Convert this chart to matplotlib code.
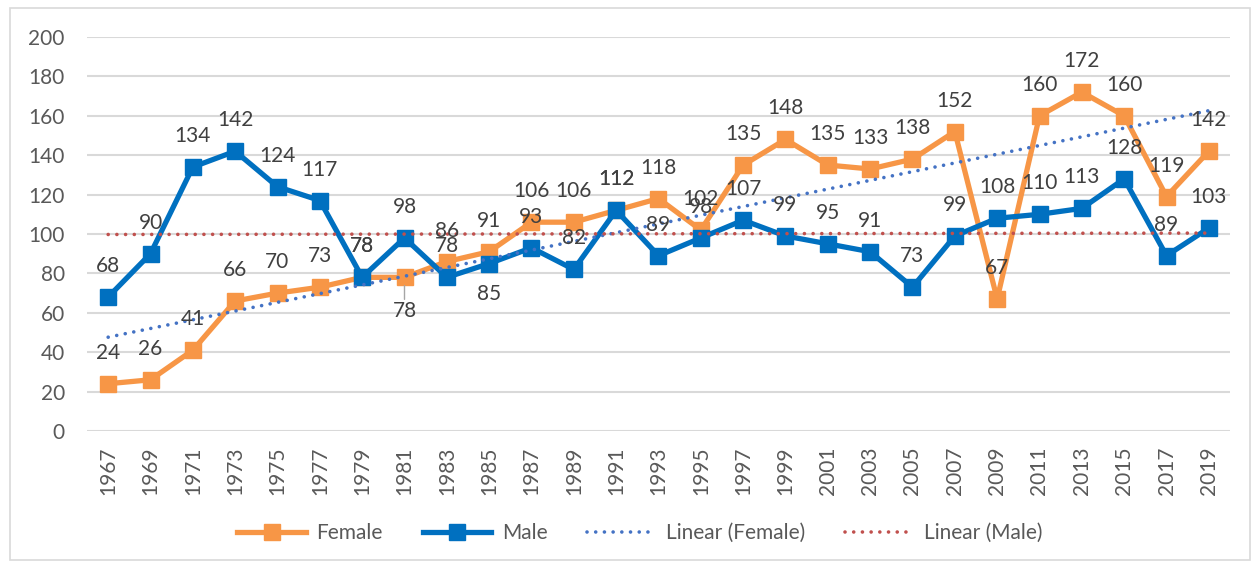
import numpy as np
import matplotlib
matplotlib.use("Agg")
import matplotlib.pyplot as plt
from matplotlib.patches import Rectangle

years = [str(y) for y in range(1967, 2020, 2)]
female = [24, 26, 41, 66, 70, 73, 78, 78, 86, 91, 106, 106, 112, 118, 102,
          135, 148, 135, 133, 138, 152, 67, 160, 172, 160, 119, 142]
male = [68, 90, 134, 142, 124, 117, 78, 98, 78, 85, 93, 82, 112, 89, 98,
        107, 99, 95, 91, 73, 99, 108, 110, 113, 128, 89, 103]
yticks = [0, 20, 40, 60, 80, 100, 120, 140, 160, 180, 200]

# labels placed below the point instead of above
female_below = {"1981"}
male_below = {"1985"}

C_F = "#F79646"
C_M = "#0070C0"
C_TF = "#4472C4"
C_TM = "#C0504D"
TXT = "#404040"
FS = 15

plt.rcParams['font.family'] = ['Lato', 'DejaVu Sans']

fig = plt.figure(figsize=(12.54, 5.64), dpi=100)
fig.patches.append(Rectangle((10 / 1254, 4 / 564), 1240 / 1254, 552 / 564,
                             transform=fig.transFigure, fill=False,
                             edgecolor="#d9d9d9", linewidth=1.2))
ax = fig.add_axes([87 / 1254, 1 - 431 / 564, 1143 / 1254, 394 / 564])

x = np.arange(len(years))
ax.plot(x, female, color=C_F, lw=3.8, marker="s", ms=11, label="Female", zorder=3)
ax.plot(x, male, color=C_M, lw=3.8, marker="s", ms=11, label="Male", zorder=3)

pf = np.polyfit(x, female, 1)
pm = np.polyfit(x, male, 1)
dot = (0, (0.01, 2.4))
ax.plot(x, np.polyval(pf, x), color=C_TF, lw=2.6, ls=dot, dash_capstyle="round",
        label="Linear (Female)", zorder=4)
ax.plot(x, np.polyval(pm, x), color=C_TM, lw=2.6, ls=dot, dash_capstyle="round",
        label="Linear (Male)", zorder=4)

for xi, yr, v in zip(x, years, female):
    below = yr in female_below
    off = -34 if below else 31
    ax.annotate(str(v), (xi, v), xytext=(0, off), textcoords="offset pixels",
                ha="center", va="center", fontsize=FS, color=TXT, zorder=5)
    if below:
        ax.annotate("", (xi, v), xytext=(0, -22), textcoords="offset pixels",
                    xycoords="data",
                    arrowprops=dict(arrowstyle="-", color="#a6a6a6", lw=1,
                                    shrinkA=0, shrinkB=6))
for xi, yr, v in zip(x, years, male):
    off = -30 if yr in male_below else 31
    ax.annotate(str(v), (xi, v), xytext=(0, off), textcoords="offset pixels",
                ha="center", va="center", fontsize=FS, color=TXT, zorder=5)

ax.set_xlim(-0.5, len(years) - 0.5)
ax.set_ylim(0, 200)
ax.set_yticks(yticks)
ax.set_xticks(x)
ax.set_xticklabels(years, rotation=90)
ax.tick_params(axis="both", length=0, labelsize=FS, labelcolor="#595959")
ax.tick_params(axis="y", pad=16)
ax.tick_params(axis="x", pad=11)
ax.grid(axis="y", color="#d9d9d9", lw=1.5)
ax.set_axisbelow(True)
for s in ax.spines.values():
    s.set_visible(False)

leg = fig.legend(loc="center", bbox_to_anchor=(640 / 1254, 1 - 533 / 564), ncol=4,
                 frameon=False, fontsize=FS, handlelength=3.3, handletextpad=0.5,
                 columnspacing=1.9)
for t in leg.get_texts():
    t.set_color("#595959")

fig.savefig("out.png", dpi=100)
